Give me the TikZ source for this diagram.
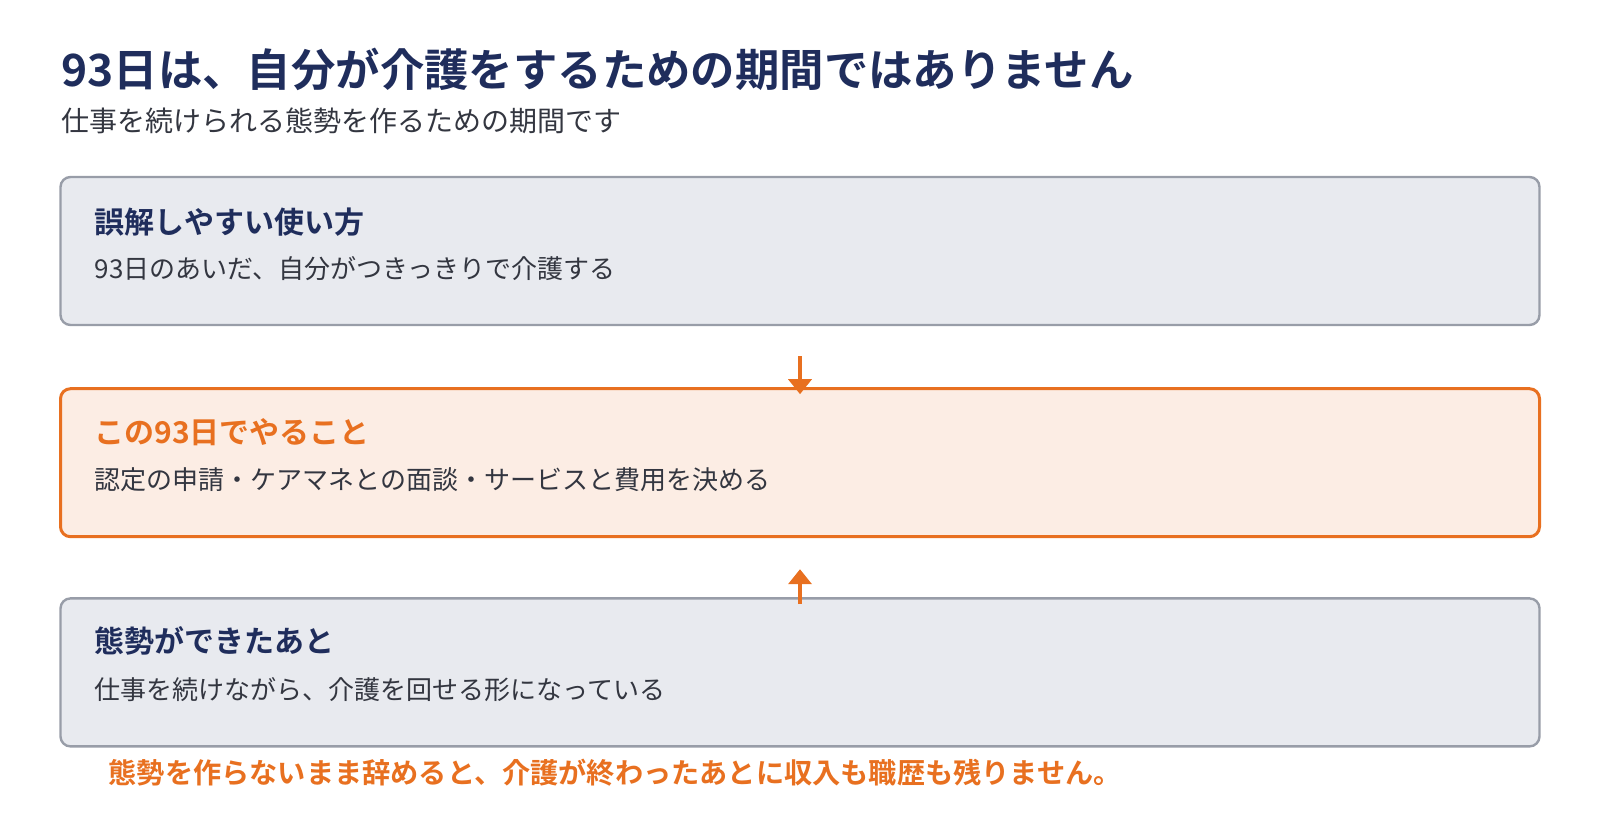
\documentclass[tikz,border=0pt]{standalone}
\usepackage{fontspec}
\setmainfont{Noto Sans CJK JP}[BoldFont={Noto Sans CJK JP Bold}]
\usepackage{tikz}
\usetikzlibrary{arrows.meta,positioning,calc}

\definecolor{navy}{RGB}{31,45,92}
\definecolor{accent}{RGB}{232,112,32}
\definecolor{greyfill}{RGB}{232,234,239}
\definecolor{greyline}{RGB}{152,157,168}
\definecolor{orangefill}{RGB}{252,237,228}
\definecolor{bodytext}{RGB}{51,54,64}

\begin{document}
\begin{tikzpicture}[x=0.5pt, y=0.5pt]
\tikzset{
    greybox/.style={rectangle, rounded corners=5pt, draw=greyline, fill=greyfill, line width=1.2pt, minimum width=739.5pt, minimum height=74pt},
    orangebox/.style={greybox, draw=accent, fill=orangefill, line width=1.5pt},
    boxhead/.style={anchor=west, inner sep=0pt, font=\fontsize{15}{18}\selectfont\bfseries, text=navy},
    boxbody/.style={anchor=west, inner sep=0pt, font=\fontsize{13}{16}\selectfont, text=bodytext},
    flowarrow/.style={-{Triangle[width=11.5pt,length=7.5pt]}, draw=accent, line width=2pt}
}
\useasboundingbox (0,0) rectangle (1600,-840);

% heading
\node[anchor=west, inner sep=0pt, text=navy, font=\fontsize{22.2}{26}\selectfont\bfseries] (title) at (61,-69) {93日は、自分が介護をするための期間ではありません};
\node[anchor=west, inner sep=0pt, text=bodytext, font=\fontsize{14}{17}\selectfont] (subtitle) at (61,-121) {仕事を続けられる態勢を作るための期間です};

% the three boxes
\node[greybox] (wrong) at (800,-251) {};
\node[orangebox, below=30.5pt of wrong] (todo) {};
\node[greybox, below=29.5pt of todo] (after) {};

\node[boxhead] (wronghead) at ($(wrong.north west)+(35,-46)$) {誤解しやすい使い方};
\node[boxbody] (wrongbody) at ($(wrong.north west)+(35,-93)$) {93日のあいだ、自分がつきっきりで介護する};
\node[boxhead, text=accent] (todohead) at ($(todo.north west)+(35,-45)$) {この93日でやること};
\node[boxbody] (todobody) at ($(todo.north west)+(35,-92)$) {認定の申請・ケアマネとの面談・サービスと費用を決める};
\node[boxhead] (afterhead) at ($(after.north west)+(35,-44)$) {態勢ができたあと};
\node[boxbody] (afterbody) at ($(after.north west)+(35,-92)$) {仕事を続けながら、介護を回せる形になっている};

% arrows into the middle box
\coordinate (downtop) at ($(todo.north)+(0,31)$);
\coordinate (downtip) at ($(todo.north)+(0,-7)$);
\coordinate (upfoot) at ($(after.north)+(0,-7)$);
\coordinate (uptip) at ($(todo.south)+(0,-31)$);
\draw[flowarrow] (downtop) -- (downtip);
\draw[flowarrow] (upfoot) -- (uptip);

\node[anchor=west, inner sep=0pt, text=accent, font=\fontsize{14.1}{17}\selectfont\bfseries] (warning) at ($(after.south west)+(49,-25)$) {態勢を作らないまま辞めると、介護が終わったあとに収入も職歴も残りません。};

\end{tikzpicture}
\end{document}
